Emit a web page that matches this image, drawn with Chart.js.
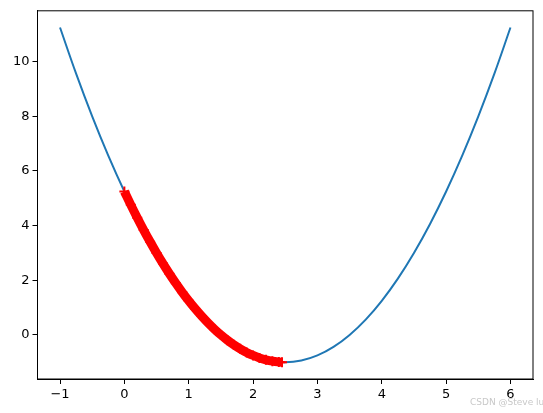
<!DOCTYPE html>
<html>
<head>
<meta charset="utf-8">
<script src="https://cdn.jsdelivr.net/npm/chart.js@4.4.1/dist/chart.umd.min.js"></script>
<style>
  html, body { margin: 0; padding: 0; background: #fff; }
  #wrap { width: 543px; height: 413px; }
</style>
</head>
<body>
<div id="wrap"><canvas id="curve"></canvas></div>
<script>
// curve samples
const curveX = [-1, -0.75, -0.5, -0.25, 0, 0.25, 0.5, 0.75, 1, 1.25, 1.5, 1.75, 2, 2.25, 2.5,
  2.75, 3, 3.25, 3.5, 3.75, 4, 4.25, 4.5, 4.75, 5, 5.25, 5.5, 5.75, 6];
const curveY = [11.25, 9.5625, 8, 6.5625, 5.25, 4.0625, 3, 2.0625, 1.25, 0.5625, 0, -0.4375, -0.75, -0.9375, -1,
  -0.9375, -0.75, -0.4375, 0, 0.5625, 1.25, 2.0625, 3, 4.0625, 5.25, 6.5625, 8, 9.5625, 11.25];

// red marker path (descent steps), last one is the thin tail
const stepX = [0, 0.1, 0.2, 0.3, 0.4, 0.5, 0.6, 0.7, 0.8, 0.9, 1.0, 1.1, 1.2, 1.3, 1.4, 1.5,
  1.6, 1.7, 1.8, 1.9, 2.0, 2.1, 2.2, 2.3, 2.4, 2.45, 2.5];
const stepY = [5.25, 4.76, 4.29, 3.84, 3.41, 3, 2.61, 2.24, 1.89, 1.56, 1.25, 0.96, 0.69, 0.44, 0.21, 0,
  -0.19, -0.36, -0.51, -0.64, -0.75, -0.84, -0.91, -0.96, -0.99, -0.9975, -1];

const xTicks = [-1, 0, 1, 2, 3, 4, 5, 6];
const yTicks = [0, 2, 4, 6, 8, 10];

const toPts = (xs, ys) => xs.map((x, i) => ({ x: x, y: ys[i] }));
const minus = v => String(v).replace("-", "\u2212");
const lastStep = stepX.length - 1;

// frame + watermark
const framePlugin = {
  id: "frame",
  afterDraw(chart) {
    const { ctx, chartArea: a } = chart;
    ctx.save();
    ctx.strokeStyle = "#000";
    ctx.lineWidth = 1;
    ctx.strokeRect(a.left, a.top, a.right - a.left, a.bottom - a.top);
    ctx.fillStyle = "#c8c8c8";
    ctx.font = "9px 'DejaVu Sans'";
    ctx.textAlign = "left";
    ctx.fillText("CSDN @Steve lu", 470, 405);
    ctx.restore();
  },
};

const axisFont = { family: "'DejaVu Sans'", size: 13 };

new Chart(document.getElementById("curve"), {
  type: "line",
  data: {
    datasets: [
      {
        label: "curve",
        data: toPts(curveX, curveY),
        borderColor: "#1f77b4",
        borderWidth: 2,
        pointRadius: 0,
        tension: 0.4,
        order: 2,
      },
      {
        label: "steps",
        data: toPts(stepX, stepY),
        borderColor: "#ff0000",
        backgroundColor: "#ff0000",
        borderWidth: 9,
        borderCapStyle: "butt",
        segment: { borderWidth: c => (c.p1DataIndex === lastStep ? 2 : 9) },
        pointStyle: "cross",
        pointRadius: c => (c.dataIndex === lastStep ? 0 : 5),
        pointBorderWidth: 2,
        tension: 0.4,
        order: 1,
      },
    ],
  },
  options: {
    responsive: true,
    maintainAspectRatio: false,
    animation: false,
    layout: { padding: { top: 10, right: 10, left: 0, bottom: 0 } },
    plugins: {
      legend: { display: false },
      tooltip: { enabled: false },
    },
    scales: {
      x: {
        type: "linear",
        min: -1.35,
        max: 6.35,
        afterBuildTicks: s => { s.ticks = xTicks.map(v => ({ value: v })); },
        afterFit: s => { s.height = 34; },
        grid: { drawOnChartArea: false, tickLength: 5, color: "#000" },
        border: { display: true, color: "#000" },
        ticks: { color: "#000", font: axisFont, padding: 3, maxRotation: 0, callback: v => minus(v) },
      },
      y: {
        min: -1.6125,
        max: 11.8625,
        afterBuildTicks: s => { s.ticks = yTicks.map(v => ({ value: v })); },
        afterFit: s => { s.width = 37.5; },
        grid: { drawOnChartArea: false, tickLength: 5, color: "#000" },
        border: { display: true, color: "#000" },
        ticks: { color: "#000", font: axisFont, padding: 3, callback: v => minus(v) },
      },
    },
  },
  plugins: [framePlugin],
});
</script>
</body>
</html>
